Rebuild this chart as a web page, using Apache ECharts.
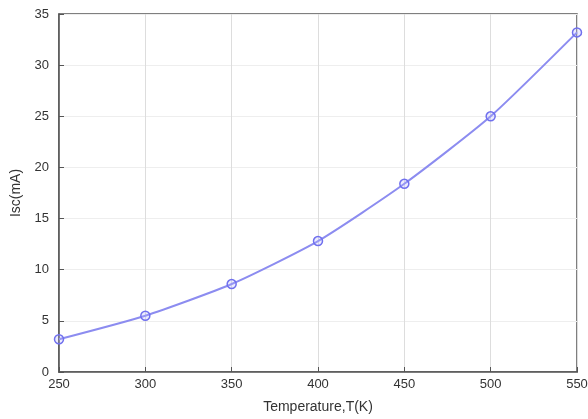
<!DOCTYPE html>
<html>
<head>
<meta charset="utf-8">
<script src="https://cdn.jsdelivr.net/npm/echarts@6/dist/echarts.min.js"></script>
<style>
  html, body { margin: 0; padding: 0; background: #fff; }
  #chart { width: 588px; height: 419px; }
</style>
</head>
<body>
<div id="chart"></div>
<script>
// temperature (K) vs short-circuit current (mA)
var temps = [250, 300, 350, 400, 450, 500, 550];
var isc = [3.2, 5.5, 8.6, 12.8, 18.4, 25.0, 33.2];

var points = temps.map(function (t, i) { return [t, isc[i]]; });

var chart = echarts.init(document.getElementById("chart"));
var axisFont = { color: "#333", fontSize: 13, fontFamily: "Liberation Sans" };

chart.setOption({
    animation: false,
    grid: {
        left: 59, top: 14, right: 11, bottom: 47,
        outerBoundsMode: "none", containLabel: false,
        show: true, borderColor: "#555", borderWidth: 1.5
    },
    xAxis: {
        type: "value",
        min: 250, max: 550, interval: 50,
        name: "Temperature,T(K)",
        nameLocation: "middle",
        nameGap: 28,
        nameTextStyle: { color: "#333", fontSize: 14, fontFamily: "Liberation Sans" },
        axisLine: { show: true, lineStyle: { color: "#555", width: 1.5 } },
        axisTick: { inside: true, length: 5, lineStyle: { color: "#555" } },
        axisLabel: Object.assign({ margin: 6 }, axisFont),
        splitLine: { show: true, lineStyle: { color: "#ddd", width: 1 } }
    },
    yAxis: {
        type: "value",
        min: 0, max: 35, interval: 5,
        name: "Isc(mA)",
        nameLocation: "middle",
        nameGap: 32,
        nameTextStyle: { color: "#333", fontSize: 14, fontFamily: "Liberation Sans" },
        axisLine: { show: true, lineStyle: { color: "#555", width: 1.5 } },
        axisTick: { inside: true, length: 5, lineStyle: { color: "#555" } },
        axisLabel: Object.assign({ margin: 10 }, axisFont),
        splitLine: { show: true, lineStyle: { color: "#eee", width: 1 } }
    },
    series: [{
        type: "line",
        data: points,
        smooth: 0.2,
        symbol: "circle",
        symbolSize: 9,
        lineStyle: { color: "#8c8cf0", width: 2 },
        itemStyle: { color: "rgba(180,180,255,0.25)", borderColor: "#7070ee", borderWidth: 1.5 }
    }]
});
</script>
</body>
</html>
